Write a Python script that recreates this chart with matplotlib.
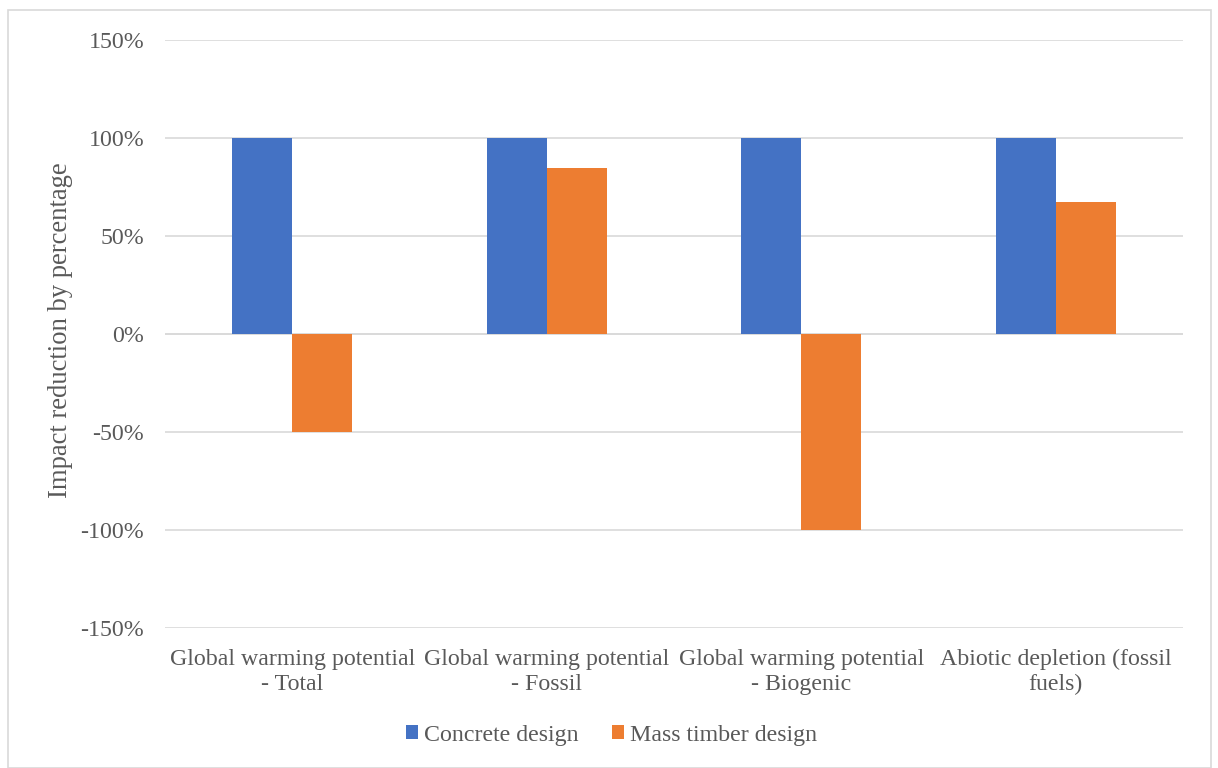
import numpy as np
import matplotlib.pyplot as plt
from matplotlib.patches import Rectangle
from matplotlib.ticker import FuncFormatter

# Impact categories and relative results (concrete design = 100%)
categories = [
    "Global warming potential\n- Total",
    "Global warming potential\n- Fossil",
    "Global warming potential\n- Biogenic",
    "Abiotic depletion (fossil\nfuels)",
]
concrete = [100, 100, 100, 100]
mass_timber = [-50, 84.5, -100, 67.5]

blue = "#4472C4"
orange = "#ED7D31"
text_gray = "#595959"
grid_gray = "#D9D9D9"
fs = 17.2

plt.rcParams["font.family"] = ["Liberation Serif", "DejaVu Serif"]

fig = plt.figure(figsize=(12.18, 7.68), dpi=100)
ax = fig.add_axes([165 / 1218, 1 - 628 / 768, (1183 - 165) / 1218, (628 - 40) / 768])

x = np.arange(len(categories))
width = 0.236
ax.bar(x - width / 2, concrete, width, color=blue, label="Concrete design")
ax.bar(x + width / 2, mass_timber, width, color=orange, label="Mass timber design")

ax.set_xlim(-0.5, len(categories) - 0.5)
ax.set_ylim(-150, 150)
ax.set_yticks(np.arange(-150, 151, 50))
ax.yaxis.set_major_formatter(FuncFormatter(lambda v, _: f"{v:.0f}%"))
ax.grid(axis="y", color=grid_gray, linewidth=1.2)
ax.set_axisbelow(True)
ax.axhline(0, color=grid_gray, linewidth=1.2, zorder=0.5)

for side in ["top", "right", "left", "bottom"]:
    ax.spines[side].set_visible(False)

ax.set_xticks(x)
ax.set_xticklabels(categories, fontsize=fs, color=text_gray, linespacing=1.25)
ax.tick_params(axis="x", length=0, pad=15)
ax.tick_params(axis="y", length=0, pad=15, labelsize=fs, labelcolor=text_gray)

ax.set_ylabel("Impact reduction by percentage", fontsize=19.2, color=text_gray)
ax.yaxis.set_label_coords(-0.0907, 0.5 + 4 / 588)

fig.legend(loc="center", bbox_to_anchor=(0.5 + 3 / 1218, 1 - 735 / 768), ncol=2, frameon=False,
           fontsize=fs, labelcolor=text_gray, handlelength=0.5, handleheight=0.5,
           handletextpad=0.25, columnspacing=1.4)

# Chart area border
fig.patches.append(Rectangle((8 / 1218, 0), 1203 / 1218, 1 - 10 / 768,
                             transform=fig.transFigure, fill=False,
                             edgecolor=grid_gray, linewidth=1.2))

fig.savefig("out.png", dpi=100)
